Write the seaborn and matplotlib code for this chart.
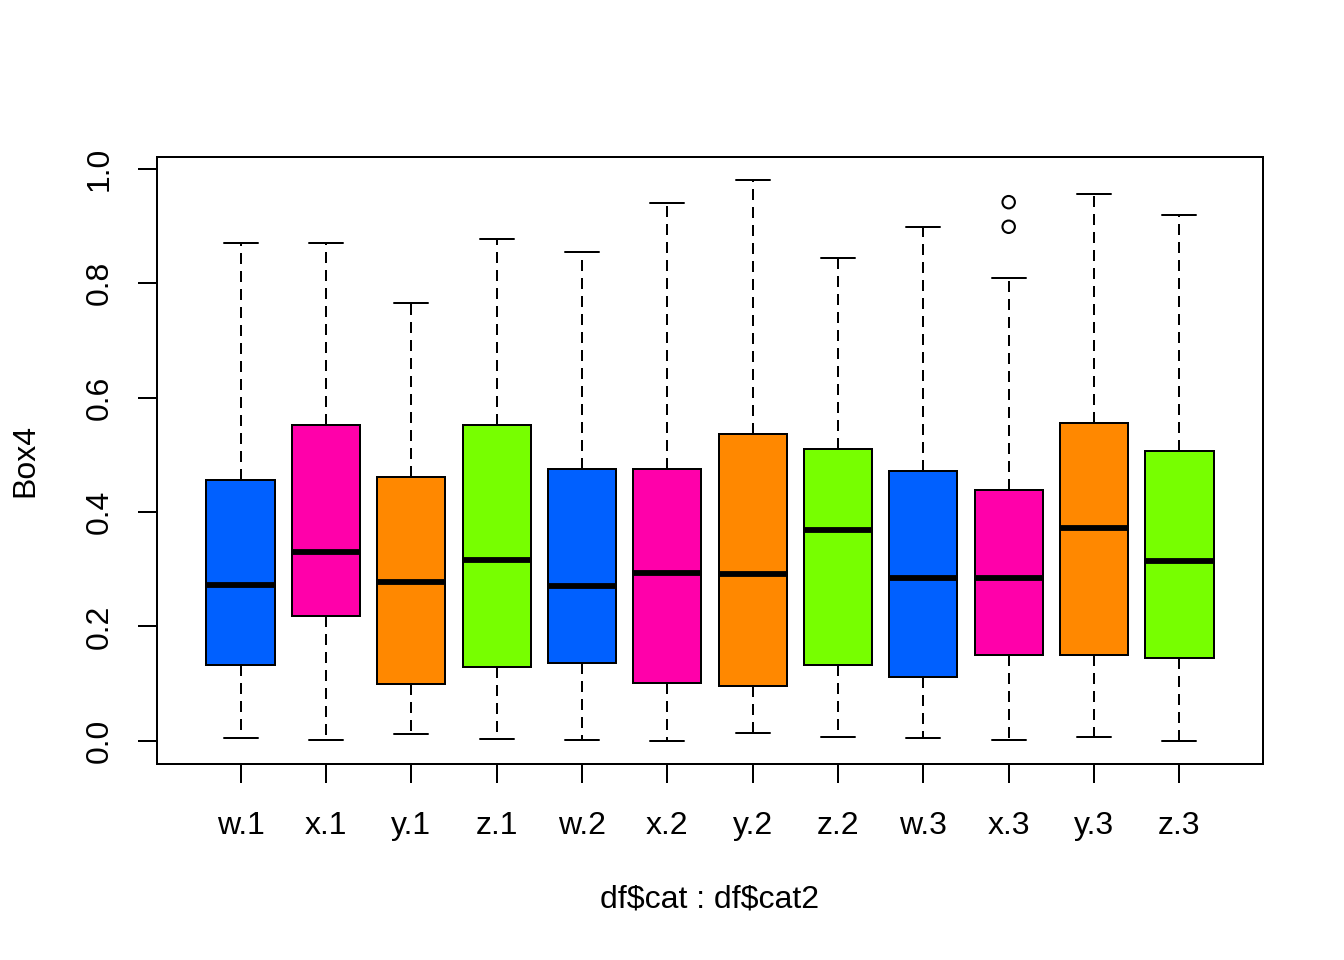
import numpy as np
import pandas as pd
import matplotlib
matplotlib.use("Agg")
import matplotlib.pyplot as plt
import seaborn as sns

# ---- data ----
groups = ["w.1", "x.1", "y.1", "z.1", "w.2", "x.2", "y.2", "z.2", "w.3", "x.3", "y.3", "z.3"]
whisker_low = [0.005, 0.001, 0.012, 0.003, 0.001, 0.000, 0.014, 0.006, 0.005, 0.001, 0.006, 0.000]
q1 = [0.132, 0.218, 0.099, 0.129, 0.136, 0.102, 0.096, 0.132, 0.112, 0.150, 0.150, 0.145]
median = [0.272, 0.330, 0.277, 0.316, 0.271, 0.293, 0.291, 0.369, 0.284, 0.284, 0.373, 0.314]
q3 = [0.457, 0.552, 0.461, 0.553, 0.476, 0.475, 0.536, 0.510, 0.472, 0.438, 0.555, 0.506]
whisker_high = [0.870, 0.870, 0.766, 0.878, 0.854, 0.941, 0.981, 0.845, 0.899, 0.809, 0.957, 0.919]
outlier_group = ["x.3", "x.3"]
outlier_value = [0.942, 0.899]
colors = ["#0060FF", "#FF00AA", "#FF8800", "#77FF00"] * 3
x_label = r"df\$cat : df\$cat2"
y_label = "Box4"
y_ticks = [0.0, 0.2, 0.4, 0.6, 0.8, 1.0]
y_ticklabels = ["0.0", "0.2", "0.4", "0.6", "0.8", "1.0"]

# table of the five box statistics per group (quartiles reproduce exactly)
rows = []
for g, lo, a, m, b, hi in zip(groups, whisker_low, q1, median, q3, whisker_high):
    for v in (lo, a, m, b, hi):
        rows.append({"grp": g, "val": v})
df = pd.DataFrame(rows)
out_df = pd.DataFrame({"grp": outlier_group, "val": outlier_value})

sns.set_style("ticks")
plt.rcParams["font.family"] = ["Liberation Sans", "DejaVu Sans"]
plt.rcParams["axes.linewidth"] = 1.44
plt.rcParams["text.color"] = "black"

fig = plt.figure(figsize=(13.44, 9.6), dpi=100)
ax = fig.add_axes([157 / 1344, 1 - 764 / 960, (1263 - 157) / 1344, (764 - 157) / 960])

lw = 1.44
sns.boxplot(data=df, x="grp", y="val", hue="grp", order=groups, hue_order=groups,
            palette=colors, legend=False, whis=(0, 100), width=0.8, ax=ax,
            linecolor="black", linewidth=lw, fliersize=0, saturation=1,
            medianprops={"linewidth": 4.2, "color": "black", "solid_capstyle": "butt"},
            whiskerprops={"linestyle": (0, (5.5, 3.5)), "color": "black", "linewidth": lw},
            capprops={"color": "black", "linewidth": lw},
            boxprops={"edgecolor": "black", "linewidth": lw})

sns.scatterplot(data=out_df, x="grp", y="val", ax=ax, marker="o", s=80,
                facecolor="none", edgecolor="black", linewidth=1.5, zorder=5)

ax.set_xlim(-0.98, 11.98)
ax.set_ylim(-0.0405, 1.021)
ax.set_yticks(y_ticks)
ax.set_yticklabels(y_ticklabels)
ax.set_xticks(range(len(groups)))
ax.set_xticklabels(groups)
for s in ax.spines.values():
    s.set_visible(True)
    s.set_color("black")
    s.set_linewidth(1.44)

ax.tick_params(axis="both", direction="out", length=13.5, width=1.44,
               labelsize=23, colors="black", labelcolor="black")
ax.tick_params(axis="x", pad=20)
ax.tick_params(axis="y", pad=17, labelrotation=90)
for t in ax.get_yticklabels():
    t.set_verticalalignment("center")

ax.set_xlabel("")
ax.set_ylabel("")
fig.text(710 / 1344, 1 - 900 / 960, x_label, ha="center", va="center", fontsize=23, color="black")
fig.text(25 / 1344, 1 - 460 / 960, y_label, ha="center", va="center", fontsize=23,
         rotation=90, color="black")

fig.savefig("out.png", dpi=100, facecolor="white")
